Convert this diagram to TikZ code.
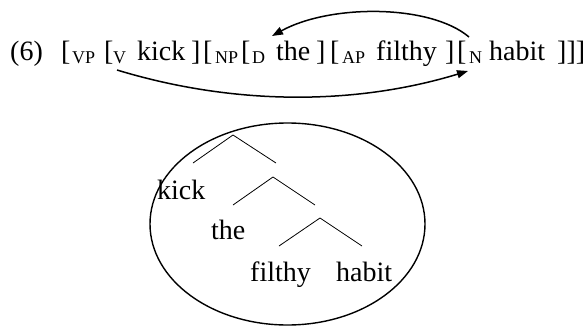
\documentclass[tikz,border=0pt]{standalone}
\usepackage{fontspec}
\setmainfont{Liberation Serif}
\usetikzlibrary{arrows.meta}
\begin{document}
\begin{tikzpicture}[x=1pt,y=-1pt,
  word/.style={anchor=base west,inner sep=0pt,font=\fontsize{28}{30}\selectfont},
  lab/.style={anchor=base west,inner sep=0pt,font=\fontsize{18}{20}\selectfont},
  movearrow/.style={line width=1.5pt,-{Triangle[length=11pt,width=8pt]}},
  branch/.style={line width=0.8pt},
  ringline/.style={line width=1.4pt}]
\useasboundingbox (0,0) rectangle (587,327);
% bracketed string
\node[word] (n6) at (10,60) {(6)};
\node[word] (b1) at (61,60) {[};
\node[lab] (vp) at (72,63.5) {VP};
\node[word] (b2) at (104,60) {[};
\node[lab] (vsub) at (113,63.5) {V};
\node[word] (kick) at (137,60) {kick};
\node[word] (c1) at (191,60) {]};
\node[word] (b3) at (203,60) {[};
\node[lab] (np) at (215,63.5) {NP};
\node[word] (b4) at (241,60) {[};
\node[lab] (dsub) at (252,63.5) {D};
\node[word] (the) at (276,60) {the};
\node[word] (c2) at (316,60) {]};
\node[word] (b5) at (330,60) {[};
\node[lab] (ap) at (342,63.5) {AP};
\node[word] (filthy) at (376,60) {filthy};
\node[word] (c3) at (445,60) {]};
\node[word] (b6) at (457,60) {[};
\node[lab] (nsub) at (469,63.5) {N};
\node[word] (habit) at (489,60) {habit};
\node[word] (c4) at (557,60) {]]]};
% movement arrows
\coordinate (tstart) at (469,37);
\coordinate (tendpt) at (272,36);
\coordinate (bstart) at (117,70);
\coordinate (bendpt) at (468,71);
\draw[movearrow] (tstart) .. controls (430,4) and (330,4) .. (tendpt);
\draw[movearrow] (bstart) .. controls (232,105) and (353,106) .. (bendpt);
% ellipse
\draw[ringline] (287.5,224) ellipse [x radius=137.5pt, y radius=101pt];
% tree
\coordinate (a1) at (233,135); \coordinate (a1l) at (193,163); \coordinate (a1r) at (276,163);
\coordinate (a2) at (273,177); \coordinate (a2l) at (233,205); \coordinate (a2r) at (315,205);
\coordinate (a3) at (320,218); \coordinate (a3l) at (279,246); \coordinate (a3r) at (362,246);
\draw[branch] (a1l) -- (a1) -- (a1r);
\draw[branch] (a2l) -- (a2) -- (a2r);
\draw[branch] (a3l) -- (a3) -- (a3r);
\node[word] (tkick) at (157,199) {kick};
\node[word] (tthe) at (211,239) {the};
\node[word] (tfilthy) at (250,281) {filthy};
\node[word] (thabit) at (336,281) {habit};
\end{tikzpicture}
\end{document}
